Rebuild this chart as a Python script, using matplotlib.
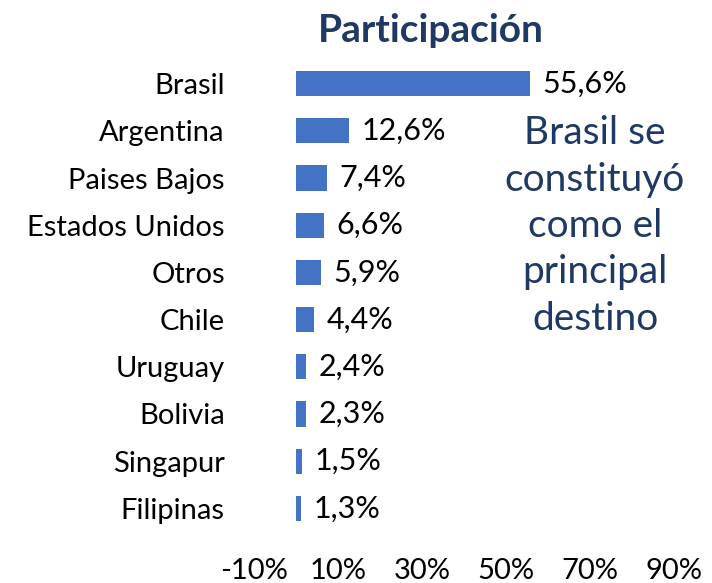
import matplotlib.pyplot as plt
from matplotlib.ticker import FuncFormatter

# data
paises = ["Brasil", "Argentina", "Paises Bajos", "Estados Unidos", "Otros",
          "Chile", "Uruguay", "Bolivia", "Singapur", "Filipinas"]
participacion = [55.6, 12.6, 7.4, 6.6, 5.9, 4.4, 2.4, 2.3, 1.5, 1.3]
ticks = [-10, 10, 30, 50, 70, 90]

plt.rcParams['font.family'] = ['Lato', 'DejaVu Sans']

fig = plt.figure(figsize=(7.12, 5.83), dpi=100)
ax = fig.add_axes([254 / 712, 1 - 532 / 583, (674 - 254) / 712, (532 - 60) / 583])

y = list(range(len(paises)))
ax.barh(y, participacion, height=0.53, color="#4472C4")
ax.set_ylim(len(paises) - 0.5, -0.5)
ax.set_xlim(-10, 90)

for i, v in enumerate(participacion):
    ax.text(v + 3.0, i, ("%.1f%%" % v).replace(".", ","), va="center", ha="left",
            fontsize=22, color="black")

ax.set_yticks(y)
ax.set_yticklabels(paises, fontsize=21)
ax.set_xticks(ticks)
ax.xaxis.set_major_formatter(FuncFormatter(lambda v, p: "%d%%" % v))
ax.tick_params(axis="x", labelsize=21, length=0, pad=19)
ax.tick_params(axis="y", length=0, pad=21)
for s in ax.spines.values():
    s.set_visible(False)

fig.text(431 / 712, 1 - 30 / 583, "Participación", ha="center", va="center",
         fontsize=28, fontweight="bold", color="#1F3864")

fig.text(595 / 712, 1 - 226 / 583, "Brasil se\nconstituyó\ncomo el\nprincipal\ndestino",
         ha="center", va="center", fontsize=28, color="#1F3864", linespacing=1.36)

fig.savefig("out.png", dpi=100)
